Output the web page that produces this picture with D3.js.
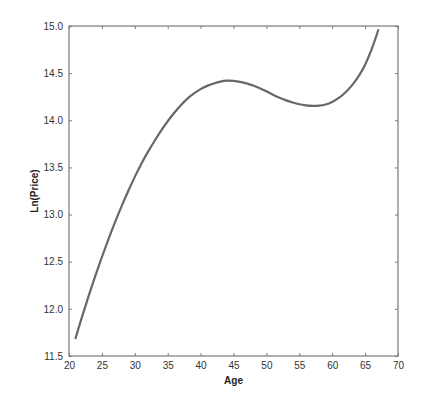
<!DOCTYPE html>
<html><head><meta charset="utf-8">
<script src="https://cdn.jsdelivr.net/npm/d3@7"></script>
<style>
body{margin:0;background:#fff;}
svg{display:block;font-family:"Liberation Sans",Arial,sans-serif;}
</style></head>
<body><svg id="c" width="441" height="399"></svg>
<script>
const ages = [21,22,23,24,25,26,27,28,29,30,31,32,33,34,35,36,37,38,39,40,41,42,43,44,45,46,47,48,49,50,51,52,53,54,55,56,57,58,59,60,61,62,63,64,65,66,67];
const lnPrice = [11.69,11.92,12.14,12.35,12.55,12.74,12.92,13.09,13.25,13.40,13.54,13.665,13.78,13.89,13.99,14.08,14.16,14.23,14.285,14.33,14.365,14.39,14.41,14.42,14.418,
  14.408,14.392,14.368,14.340,14.307,14.272,14.240,14.211,14.188,14.170,14.159,14.153,14.155,14.168,14.195,14.237,14.295,14.37,14.465,14.59,14.755,14.955];
const xTicks = [20,25,30,35,40,45,50,55,60,65,70];
const yTicks = [11.5,12.0,12.5,13.0,13.5,14.0,14.5,15.0];
const xLabel = "Age", yLabel = "Ln(Price)";

const svg = d3.select("#c");
const L=69, R=398, T=26, B=356;
const x = d3.scaleLinear().domain([20,70]).range([L,R]);
const y = d3.scaleLinear().domain([11.5,15]).range([B,T]);
const axisCol="#7a7a7a", textCol="#333";

function style(g){
  g.select(".domain").remove();
  g.selectAll(".tick line").attr("stroke",axisCol).attr("stroke-width",1);
  g.selectAll(".tick text").attr("fill",textCol).attr("font-size",10)
    .attr("font-family","'Liberation Sans',Arial,sans-serif");
}
svg.append("g").attr("transform",`translate(0,${B})`)
  .call(d3.axisBottom(x).tickValues(xTicks).tickFormat(d3.format("d")).tickSizeInner(-3).tickSizeOuter(0).tickPadding(6))
  .call(style);
svg.append("g").attr("transform",`translate(0,${T})`)
  .call(d3.axisTop(x).tickValues(xTicks).tickFormat("").tickSizeInner(-3).tickSizeOuter(0))
  .call(style);
svg.append("g").attr("transform",`translate(${L},0)`)
  .call(d3.axisLeft(y).tickValues(yTicks).tickFormat(d3.format(".1f")).tickSizeInner(-3).tickSizeOuter(0).tickPadding(6))
  .call(style);
svg.append("g").attr("transform",`translate(${R},0)`)
  .call(d3.axisRight(y).tickValues(yTicks).tickFormat("").tickSizeInner(-3).tickSizeOuter(0))
  .call(style);

svg.append("rect").attr("x",L).attr("y",T).attr("width",R-L).attr("height",B-T)
  .attr("fill","none").attr("stroke",axisCol).attr("stroke-width",1.2);

const line = d3.line().x((d,i)=>x(ages[i])).y(d=>y(d)).curve(d3.curveNatural);
svg.append("path").datum(lnPrice).attr("d",line)
  .attr("fill","none").attr("stroke","#676767").attr("stroke-width",2.2).attr("stroke-linecap","round");

svg.append("text").attr("x",(L+R)/2).attr("y",384).attr("text-anchor","middle")
  .attr("font-size",10).attr("font-weight","bold").attr("fill","#222").text(xLabel);
svg.append("text").attr("transform",`translate(38,${(T+B)/2}) rotate(-90)`).attr("text-anchor","middle")
  .attr("font-size",10).attr("font-weight","bold").attr("fill","#222").text(yLabel);
</script></body></html>
